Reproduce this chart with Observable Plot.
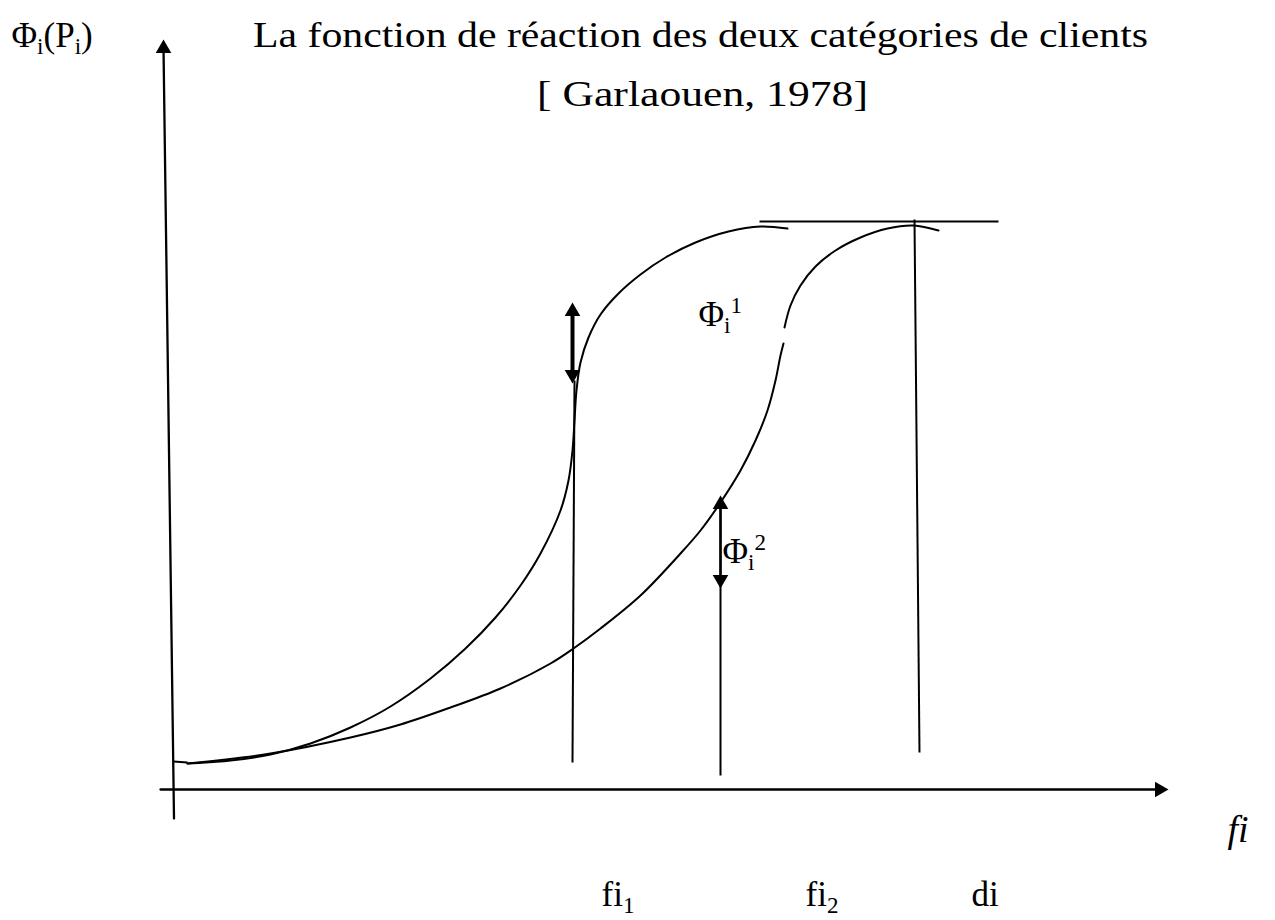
<!DOCTYPE html>
<html>
<head>
<meta charset="utf-8">
<script src="https://cdn.jsdelivr.net/npm/d3@7"></script>
<script src="https://cdn.jsdelivr.net/npm/@observablehq/plot@0.6"></script>
<style>
  html, body { margin: 0; padding: 0; background: #fff; }
  #chart svg { display: block; }
</style>
</head>
<body>
<div id="chart"></div>
<script>
// Coordinates: origin where the axes cross, x (fi) to the right, y (Φi) upward.

// Reaction function of the first customer category (Φi¹), steeper
const curve1 = [
  {x: 14, y: 26}, {x: 57, y: 29}, {x: 97, y: 35}, {x: 137, y: 46},
  {x: 177, y: 62}, {x: 217, y: 83}, {x: 257, y: 111}, {x: 292, y: 141},
  {x: 322, y: 172}, {x: 347, y: 204}, {x: 367, y: 236}, {x: 387, y: 279},
  {x: 395, y: 309}, {x: 399, y: 339}, {x: 401, y: 369}, {x: 403, y: 399},
  {x: 407, y: 427}, {x: 415, y: 452}, {x: 427, y: 475}, {x: 445, y: 496},
  {x: 467, y: 515}, {x: 492, y: 532}, {x: 522, y: 547}, {x: 555, y: 558},
  {x: 587, y: 563}, {x: 614, y: 561}
];

// Reaction function of the second customer category (Φi²), drawn in two strokes
const curve2 = [
  {x: 14, y: 26}, {x: 97, y: 36}, {x: 177, y: 52}, {x: 227, y: 65},
  {x: 277, y: 82}, {x: 327, y: 101}, {x: 377, y: 126}, {x: 400, y: 141},
  {x: 427, y: 161}, {x: 467, y: 194}, {x: 507, y: 236}, {x: 527, y: 259},
  {x: 547, y: 287}, {x: 567, y: 319}, {x: 582, y: 349}, {x: 594, y: 379},
  {x: 602, y: 409}, {x: 607, y: 434}, {x: 610, y: 446},
  {x: 610.5, y: NaN},
  {x: 611, y: 462}, {x: 617, y: 484}, {x: 627, y: 504}, {x: 642, y: 523},
  {x: 662, y: 539}, {x: 687, y: 552}, {x: 714, y: 561}, {x: 740, y: 564},
  {x: 765, y: 559}
];

// Axes (ending under their arrowheads)
const axisY = [{x: 0.5, y: -29}, {x: -10, y: 742}];
const axisX = [{x: -13, y: 0}, {x: 988, y: 0}];

// Plain guide segments: fi1, fi2, di, the saturation level and the start level
const guides = [
  {x1: 401, y1: 409, x2: 399, y2: 27},   // fi1
  {x1: 547, y1: 290, x2: 547, y2: 14},   // fi2
  {x1: 741, y1: 570, x2: 746, y2: 37},   // di
  {x1: 586, y1: 568, x2: 825, y2: 568},  // saturation level
  {x1: 0, y1: 28, x2: 14, y2: 27}        // starting level
];

// Double arrows marking Φi¹ and Φi²
const shafts = [
  {x1: 399, y1: 476, x2: 399, y2: 416, w: 4},
  {x1: 547, y1: 285, x2: 547, y2: 210, w: 2.4}
];

// Arrow tips
const tipsUp = [{x: -10, y: 750}, {x: 399, y: 487}, {x: 547, y: 294}];
const tipsDown = [{x: 399, y: 406}, {x: 547, y: 201}];
const tipsRight = [{x: 995, y: 0}];

// Texts; "_" starts a subscript character, "^" a superscript character
const titleLines = [
  {x: 527, y: 743, text: "La fonction de réaction des deux catégories de clients", w: 895},
  {x: 529, y: 684, text: "[ Garlaouen, 1978]", w: 331}
];
const labels = [
  {x: -162, y: 743, text: "Φ_i(P_i)"},
  {x: 525, y: 464, text: "Φ_i^1"},
  {x: 549, y: 227, text: "Φ_i^2"},
  {x: 428, y: -116, text: "fi_1"},
  {x: 632, y: -116, text: "fi_2"},
  {x: 798, y: -116, text: "di"}
];
const axisName = [{x: 1054, y: -52, text: "fi"}];

const FONT = "Liberation Serif";
const SIZE = 35;
const tri = 5.8;            // triangle symbol radius
const tipOffset = 9;        // distance from triangle centroid to tip

const plot = Plot.plot({
  width: 1275,
  height: 920,
  margin: 0,
  x: {domain: [-173, 1102], axis: null},
  y: {domain: [-131, 789], axis: null},
  style: {background: "#fff", fontFamily: FONT, color: "#000"},
  marks: [
    Plot.line(axisY, {x: "x", y: "y", stroke: "#000", strokeWidth: 2.3}),
    Plot.line(axisX, {x: "x", y: "y", stroke: "#000", strokeWidth: 2.3}),
    Plot.link(guides, {x1: "x1", y1: "y1", x2: "x2", y2: "y2", stroke: "#000", strokeWidth: 2}),
    Plot.link(shafts, {x1: "x1", y1: "y1", x2: "x2", y2: "y2", stroke: "#000", strokeWidth: (d) => d.w}),
    Plot.line(curve1, {x: "x", y: "y", curve: "catmull-rom", stroke: "#000", strokeWidth: 2}),
    Plot.line(curve2, {x: "x", y: "y", curve: "catmull-rom", stroke: "#000", strokeWidth: 2}),
    Plot.dot(tipsUp, {x: "x", y: "y", symbol: "triangle", r: tri, fill: "#000", stroke: null, dy: tipOffset}),
    Plot.dot(tipsDown, {x: "x", y: "y", symbol: "triangle", r: tri, fill: "#000", stroke: null, rotate: 180, dy: -tipOffset}),
    Plot.dot(tipsRight, {x: "x", y: "y", symbol: "triangle", r: tri, fill: "#000", stroke: null, rotate: 90, dx: -tipOffset}),
    Plot.text(titleLines, {x: "x", y: "y", text: "text", textAnchor: "middle", lineAnchor: "bottom",
      fontSize: SIZE, fontFamily: FONT, fill: "#000", className: "heading"}),
    Plot.text(labels, {x: "x", y: "y", text: "text", textAnchor: "start", lineAnchor: "bottom",
      fontSize: SIZE, fontFamily: FONT, fill: "#000", className: "rich"}),
    Plot.text(axisName, {x: "x", y: "y", text: "text", textAnchor: "start", lineAnchor: "bottom",
      fontSize: 38, fontFamily: FONT, fontStyle: "italic", fill: "#000"})
  ]
});

// Heading lines are set to the width of the wider book face they were typeset in.
d3.select(plot).selectAll("g.heading text").each(function (i) {
  const d = titleLines[i];
  if (d) d3.select(this).attr("textLength", d.w).attr("lengthAdjust", "spacingAndGlyphs");
});

// Turn "_c" / "^c" markup into lowered / raised smaller characters.
d3.select(plot).selectAll("g.rich text").each(function () {
  const src = this.textContent;
  const segs = [];
  for (let i = 0; i < src.length; i++) {
    const c = src[i];
    if ((c === "_" || c === "^") && i + 1 < src.length) {
      segs.push({t: src[i + 1], level: c === "_" ? -1 : 1});
      i++;
    } else if (segs.length && segs[segs.length - 1].level === 0) {
      segs[segs.length - 1].t += c;
    } else {
      segs.push({t: c, level: 0});
    }
  }
  const shift = (lv) => (lv < 0 ? 0.2 * SIZE : lv > 0 ? -0.36 * SIZE : 0);
  this.textContent = "";
  let prev = 0;
  for (const s of segs) {
    const ts = d3.select(this).append("tspan").text(s.t);
    const cur = shift(s.level);
    if (cur !== prev) ts.attr("dy", cur - prev);
    if (s.level !== 0) ts.attr("font-size", 0.66 * SIZE);
    prev = cur;
  }
});

document.getElementById("chart").append(plot);
</script>
</body>
</html>
